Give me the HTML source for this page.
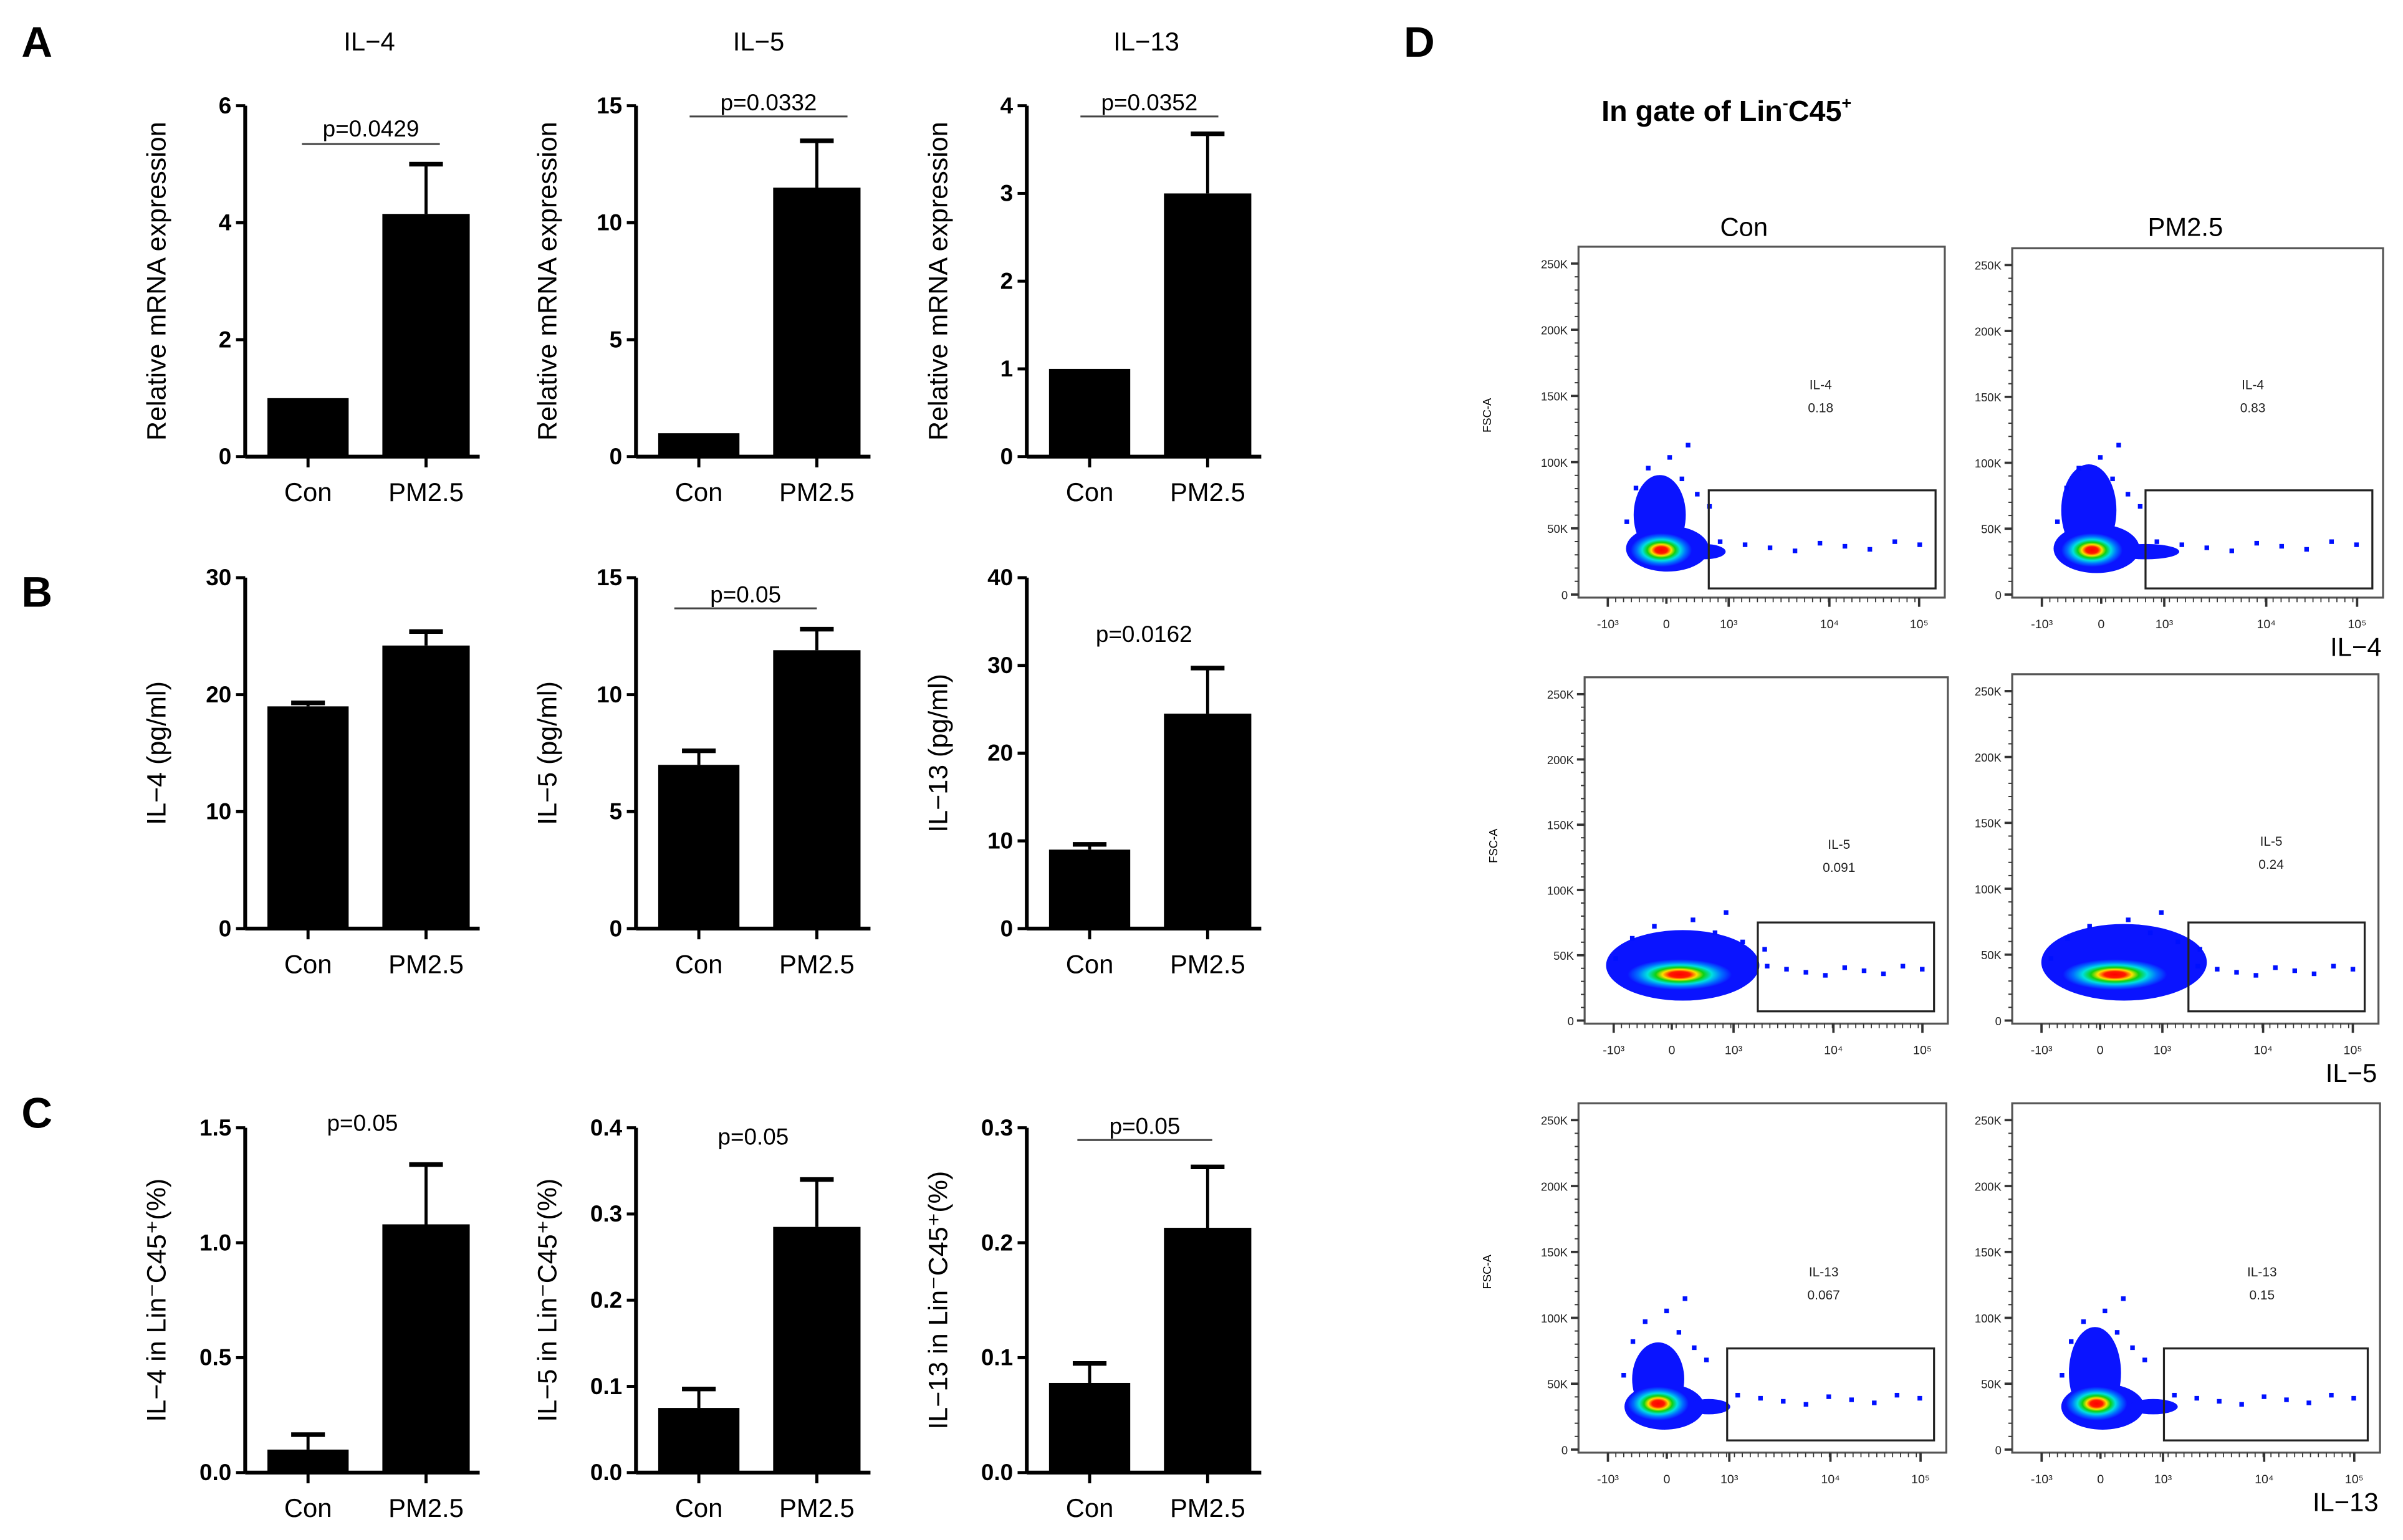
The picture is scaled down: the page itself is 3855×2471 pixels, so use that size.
<!DOCTYPE html>
<html><head><meta charset="utf-8"><style>
html,body{margin:0;padding:0;background:#fff;}
svg{display:block;font-family:"Liberation Sans",Arial,sans-serif;}
</style></head><body>
<svg id="fig" width="3855" height="2471" viewBox="0 0 1568 1005" preserveAspectRatio="none" xmlns="http://www.w3.org/2000/svg">
<defs>
<radialGradient id="dens" cx="50%" cy="50%" r="50%">
<stop offset="0" stop-color="#ff0000"/><stop offset="0.2" stop-color="#ff1a00"/><stop offset="0.33" stop-color="#ffe000"/><stop offset="0.46" stop-color="#10d010"/><stop offset="0.62" stop-color="#00e0e0"/><stop offset="0.8" stop-color="#0070ff"/><stop offset="1" stop-color="#0a14ff"/>
</radialGradient>
</defs>
<g font-weight="bold" font-size="28">
<text x="14" y="37">A</text>
<text x="14" y="396">B</text>
<text x="14" y="736">C</text>
<text x="916" y="37">D</text>
</g>
<g font-size="17" text-anchor="middle">
<text x="241" y="33">IL−4</text>
<text x="495" y="33">IL−5</text>
<text x="748" y="33">IL−13</text>
</g>
<g id="charts"></g>
<g id="flow"></g>
<text x="1045" y="79" font-size="19" font-weight="bold">In gate of Lin<tspan font-size="11" dy="-8">-</tspan><tspan dy="8">C45</tspan><tspan font-size="11" dy="-8">+</tspan></text>
<text x="1138" y="154" font-size="17" text-anchor="middle">Con</text>
<text x="1426" y="154" font-size="17" text-anchor="middle">PM2.5</text>
</svg>
<script>
// ---- bar chart data ----
const groups = ["Con","PM2.5"];
const aCon = [1, 1, 1];
const aConErr = [1, 1, 1];
const aPm = [4.15, 11.5, 3.0];
const aPmErr = [5.0, 13.5, 3.68];
const aMax = [6, 15, 4];
const aTicks = [["0","2","4","6"],["0","5","10","15"],["0","1","2","3","4"]];
const aP = ["p=0.0429","p=0.0332","p=0.0352"];
const bCon = [19, 7, 9];
const bConErr = [19.3, 7.6, 9.6];
const bPm = [24.2, 11.9, 24.5];
const bPmErr = [25.4, 12.8, 29.7];
const bMax = [30, 15, 40];
const bTicks = [["0","10","20","30"],["0","5","10","15"],["0","10","20","30","40"]];
const bP = ["","p=0.05","p=0.0162"];
const cCon = [0.1, 0.075, 0.078];
const cConErr = [0.165, 0.097, 0.095];
const cPm = [1.08, 0.285, 0.213];
const cPmErr = [1.34, 0.34, 0.266];
const cMax = [1.5, 0.4, 0.3];
const cTicks = [["0.0","0.5","1.0","1.5"],["0.0","0.1","0.2","0.3","0.4"],["0.0","0.1","0.2","0.3"]];
const cP = ["p=0.05","p=0.05","p=0.05"];

const NS="http://www.w3.org/2000/svg";
function mk(tag, attrs, parent, txt){const e=document.createElementNS(NS,tag);for(const k in attrs)e.setAttribute(k,attrs[k]);if(txt!==undefined)e.textContent=txt;parent.appendChild(e);return e;}
const charts=document.getElementById('charts');
const axisXs=[160,415,670];
const ylabX=[103,358,613];
const pLayoutA=[[89,94,197,287],[72,76,450,553],[72,76,705,795]];
const pLayoutB=[[0,null],[393,397,440,533],[419,null]];
const pLayoutC=[[738,null],[747,null],[740,744,703,791]];
const rows=[
 {name:"a",top:69,bot:298,con:aCon,conE:aConErr,pm:aPm,pmE:aPmErr,max:aMax,ticks:aTicks,p:aP,pl:pLayoutA,lab:["Relative mRNA expression","Relative mRNA expression","Relative mRNA expression"]},
 {name:"b",top:377,bot:606,con:bCon,conE:bConErr,pm:bPm,pmE:bPmErr,max:bMax,ticks:bTicks,p:bP,pl:pLayoutB,lab:["IL−4 (pg/ml)","IL−5 (pg/ml)","IL−13 (pg/ml)"]},
 {name:"c",top:736,bot:961,con:cCon,conE:cConErr,pm:cPm,pmE:cPmErr,max:cMax,ticks:cTicks,p:cP,pl:pLayoutC,lab:["IL−4 in  Lin⁻C45⁺(%)","IL−5 in  Lin⁻C45⁺(%)","IL−13 in  Lin⁻C45⁺(%)"]}
];
rows.forEach(r=>{
 for(let i=0;i<3;i++){
  const ax=axisXs[i];
  const g=mk('g',{},charts);
  
  
  const y=v=>r.bot-(v/r.max[i])*(r.bot-r.top);
  const ya=mk('line',{x1:ax,y1:r.top,x2:ax,y2:r.bot,stroke:'#000','stroke-width':2.5},g);
  
  
  const xa=mk('line',{x1:ax,y1:r.bot,x2:ax+153,y2:r.bot,stroke:'#000','stroke-width':2.5},g);
  
  
  const n=r.ticks[i].length;
  r.ticks[i].forEach((t,k)=>{
   const v=r.max[i]*k/(n-1);
   mk('line',{x1:ax-6,y1:y(v),x2:ax,y2:y(v),stroke:'#000','stroke-width':2},g);
   const tl=mk('text',{x:ax-9,y:y(v)+5,'font-size':15,'font-weight':'bold','text-anchor':'end'},g,t);
   
   
  });
  const yl=mk('text',{x:0,y:0,'font-size':17.5,'text-anchor':'middle',transform:`translate(${ylabX[i]+5},${(r.top+r.bot)/2}) rotate(-90)`},g,r.lab[i]);
  
  
  const centers=[ax+41,ax+118];
  const vals=[r.con[i],r.pm[i]], errs=[r.conE[i],r.pmE[i]];
  for(let j=0;j<2;j++){
   const cx=centers[j];
   const w=j==0?53:57;
   const b=mk('rect',{x:cx-w/2,y:y(vals[j]),width:w,height:r.bot-y(vals[j]),fill:'#000'},g);
   
   
   if(errs[j]>vals[j]){
    mk('line',{x1:cx,y1:y(vals[j]),x2:cx,y2:y(errs[j]),stroke:'#000','stroke-width':2},g);
    mk('line',{x1:cx-11,y1:y(errs[j]),x2:cx+11,y2:y(errs[j]),stroke:'#000','stroke-width':3},g);
   }
   mk('line',{x1:cx,y1:r.bot,x2:cx,y2:r.bot+7,stroke:'#000','stroke-width':2},g);
   const xl=mk('text',{x:cx,y:r.bot+29,'font-size':17,'text-anchor':'middle'},g,groups[j]);
   
   
  }
  const pl=r.pl[i];
  if(r.p[i]){
   const pc=pl[1]!==null?(pl[2]+pl[3])/2:(centers[0]+centers[1])/2-3;
   const pt=mk('text',{x:pc,y:pl[0],'font-size':15,'text-anchor':'middle'},g,r.p[i]);
   
   
   if(pl[1]!==null) mk('line',{x1:pl[2],y1:pl[1],x2:pl[3],y2:pl[1],stroke:'#444','stroke-width':1.2},g);
  }
 }
});

// ---- flow cytometry plots ----
const flowLabels=["IL-4","IL-4","IL-5","IL-5","IL-13","IL-13"];
const flowValues=["0.18","0.83","0.091","0.24","0.067","0.15"];
const yTickLabels=["0","50K","100K","150K","200K","250K"];
const xTickLabels=["-10³","0","10³","10⁴","10⁵"];
const flow=document.getElementById('flow');
const plots=[
 {l:1030,r:1269,t:161,b:390,g:[1115,320,1263,384],c:[1084,359,20,11],v:[[1088,358,27,15],[1083,336,17,26],[1112,360,14,5]],lx:1188,ly:254},
 {l:1313,r:1555,t:162,b:390,g:[1400,320,1548,384],c:[1365,359,20,11],v:[[1368,358,28,16],[1363,333,18,30],[1400,360,22,5]],lx:1470,ly:254},
 {l:1034,r:1271,t:442,b:668,g:[1147,602,1262,660],c:[1096,636,34,10],v:[[1098,630,50,23]],lx:1200,ly:554},
 {l:1313,r:1552,t:440,b:668,g:[1428,602,1543,660],c:[1380,636,34,10],v:[[1386,628,54,25]],lx:1482,ly:552},
 {l:1030,r:1270,t:720,b:948,g:[1127,880,1262,940],c:[1082,916,20,11],v:[[1086,918,26,15],[1082,900,17,24],[1115,918,14,5]],lx:1190,ly:833},
 {l:1313,r:1553,t:720,b:948,g:[1412,880,1545,940],c:[1368,916,20,11],v:[[1372,918,27,15],[1367,896,17,30],[1405,918,16,5]],lx:1476,ly:833}
];
const strayDX=[-18,-10,4,12,22,30,-24,16];
const strayDY=[-42,-55,-62,-48,-38,-30,-20,-70];
const axisNames=["","IL−4","","IL−5","","IL−13"];
plots.forEach((p,i)=>{
 const g=mk('g',{},flow);
 
 
 mk('rect',{x:p.l,y:p.t,width:p.r-p.l,height:p.b-p.t,fill:'#fff',stroke:'#555','stroke-width':1.3},g);
 const y0=p.b-2, y250=p.t+11;
 for(let k=0;k<=25;k++){
  const yy=y0-(y0-y250)*k/25;
  mk('line',{x1:p.l-(k%5==0?5:2.5),y1:yy,x2:p.l,y2:yy,stroke:'#333','stroke-width':k%5==0?1.5:0.8},g);
 }
 yTickLabels.forEach((t,k)=>{
  mk('text',{x:p.l-7,y:y0-(y0-y250)*k/5+3,'font-size':7.5,'text-anchor':'end',fill:'#222'},g,t);
 });
 const w=p.r-p.l;
 const xs=[0.08,0.24,0.41,0.685,0.93].map(f=>p.l+w*f);
 xs.forEach((x,k)=>{
  mk('line',{x1:x,y1:p.b,x2:x,y2:p.b+(k==1?4:6),stroke:'#333','stroke-width':1.5},g);
  mk('text',{x:x,y:p.b+20,'font-size':8,'text-anchor':'middle',fill:'#222'},g,xTickLabels[k]);
 });
 for(let k=0;k<40;k++){
  const x=p.l+w*(0.08+0.86*k/40);
  mk('line',{x1:x,y1:p.b,x2:x,y2:p.b+3,stroke:'#333','stroke-width':0.7},g);
 }
 p.v.forEach(e=>mk('ellipse',{cx:e[0],cy:e[1],rx:e[2],ry:e[3],fill:'#0a14ff'},g));
 mk('ellipse',{cx:p.c[0],cy:p.c[1],rx:p.c[2],ry:p.c[3],fill:'url(#dens)'},g);
 strayDX.forEach((dx,k)=>{
  mk('rect',{x:p.c[0]+dx*(i==2||i==3?1.8:1),y:p.c[1]+strayDY[k]*(i==2||i==3?0.6:1),width:3,height:3,fill:'#0010ff'},g);
 });
 for(let k=0;k<9;k++){
  const x=p.g[0]+ (p.g[2]-p.g[0])*(0.04+k*0.11);
  const yy=p.c[1]-4+((k*37)%7)-3;
  mk('rect',{x:x,y:yy,width:3,height:3,fill:'#0010ff'},g);
 }
 const gate=mk('rect',{x:p.g[0],y:p.g[1],width:p.g[2]-p.g[0],height:p.g[3]-p.g[1],fill:'none',stroke:'#222','stroke-width':1.3},g);
 
 
 mk('text',{x:p.lx,y:p.ly,'font-size':8.5,'text-anchor':'middle',fill:'#222'},g,flowLabels[i]);
 mk('text',{x:p.lx,y:p.ly+15,'font-size':8.5,'text-anchor':'middle',fill:'#222'},g,flowValues[i]);
 if(i%2==0){
  const f=mk('text',{x:0,y:0,'font-size':7.5,'text-anchor':'middle',transform:`translate(${p.l-57},${p.t+110}) rotate(-90)`},g,'FSC-A');
  
  
 } else {
  const a=mk('text',{x:p.r-1,y:p.b+38,'font-size':17,'text-anchor':'end'},g,axisNames[i]);
  
  
 }
});
</script>
</body></html>
